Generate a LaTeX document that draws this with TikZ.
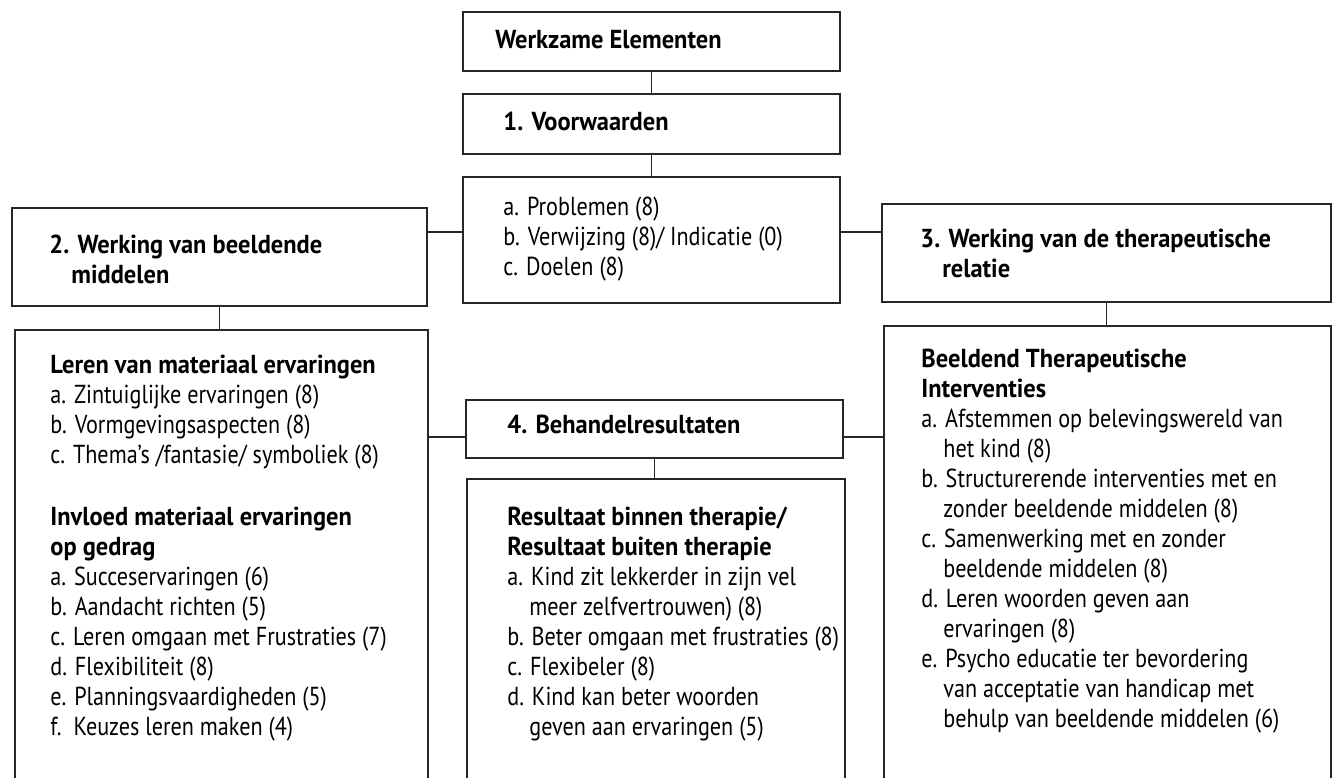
\documentclass[tikz,border=0pt]{standalone}
\usepackage{fontspec}
\setmainfont{PT Sans}[UprightFeatures={FakeStretch=0.853}, BoldFeatures={FakeStretch=0.94}]
\usetikzlibrary{fit}

\tikzset{
  box/.style={draw=black!85, line width=0.9pt, inner sep=0pt},
  link/.style={draw=black!85, line width=0.9pt},
  txt/.style={anchor=north west, inner sep=0pt, align=left, text=black,
    font=\fontsize{13pt}{15pt}\selectfont}
}
\newcommand{\subind}{\hspace*{11pt}}

\begin{document}
\begin{tikzpicture}[x=0.5pt, y=-0.5pt]
	\useasboundingbox (0,0) rectangle (1333,777);

	% boxes
	\node[box, fit={(463,12) (840,71)}] (werk) {};
	\node[box, fit={(463,94) (840,154)}] (voorw) {};
	\node[box, fit={(463,177) (840,303)}] (cond) {};
	\node[box, fit={(12,208) (427,306)}] (beeld) {};
	\node[box, fit={(882,204) (1331,302)}] (relatie) {};
	\node[box, fit={(15,330) (428,800)}] (materiaal) {};
	\node[box, fit={(466,400) (843,458)}] (behandel) {};
	\node[box, fit={(467,479) (845,800)}] (resultaat) {};
	\node[box, fit={(884,326) (1331,800)}] (interv) {};

	% connectors
	\draw[link] (werk) -- (voorw);
	\draw[link] (voorw) -- (cond);
	\draw[link] ([yshift=4pt]cond.west) -- ([yshift=4pt]beeld.east |- cond.west);
	\draw[link] ([yshift=4pt]cond.east) -- ([yshift=4pt]relatie.west |- cond.east);
	\draw[link] (beeld.south) -- (beeld.south |- materiaal.north);
	\draw[link] (relatie.south) -- (relatie.south |- interv.north);
	\draw[link] ([yshift=-4pt]behandel.west) -- ([yshift=-4pt]materiaal.east |- behandel.west);
	\draw[link] ([yshift=-4pt]behandel.east) -- ([yshift=-4pt]interv.west |- behandel.east);
	\draw[link] (behandel.south) -- (behandel.south |- resultaat.north);

	% texts
	\node[txt] (werk-t) at (495,27) {\strut\textbf{Werkzame Elementen}};
	\node[txt] (voorw-t) at (503,109) {\strut\textbf{1. Voorwaarden}};
	\node[txt] (cond-t) at (503,194) {\strut a. Problemen (8)\\
		b. Verwijzing (8)/ Indicatie (0)\\
		c. Doelen (8)};
	\node[txt] (beeld-t) at (49,232) {\strut\textbf{2. Werking van beeldende}\\
		\subind\textbf{middelen}};
	\node[txt] (relatie-t) at (920,226) {\strut\textbf{3. Werking van de therapeutische}\\
		\subind\textbf{relatie}};
	\node[txt] (materiaal-t) at (50,352) {\strut\textbf{Leren van materiaal ervaringen}\\
		a. Zintuiglijke ervaringen (8)\\
		b. Vormgevingsaspecten (8)\\
		c. Thema’s /fantasie/ symboliek (8)\\[16pt]
		\textbf{Invloed materiaal ervaringen}\\
		\textbf{op gedrag}\\
		a. Succeservaringen (6)\\
		b. Aandacht richten (5)\\
		c. Leren omgaan met Frustraties (7)\\
		d. Flexibiliteit (8)\\
		e. Planningsvaardigheden (5)\\
		f.\ \ Keuzes leren maken (4)};
	\node[txt] (behandel-t) at (507,412) {\strut\textbf{4. Behandelresultaten}};
	\node[txt] (resultaat-t) at (507,504) {\strut\textbf{Resultaat binnen therapie/}\\
		\textbf{Resultaat buiten therapie}\\
		a. Kind zit lekkerder in zijn vel\\
		\subind meer zelfvertrouwen) (8)\\
		b. Beter omgaan met frustraties (8)\\
		c. Flexibeler (8)\\
		d. Kind kan beter woorden\\
		\subind geven aan ervaringen (5)};
	\node[txt] (interv-t) at (921,346) {\strut\textbf{Beeldend Therapeutische}\\
		\textbf{Interventies}\\
		a. Afstemmen op belevingswereld van\\
		\subind het kind (8)\\
		b. Structurerende interventies met en\\
		\subind zonder beeldende middelen (8)\\
		c. Samenwerking met en zonder\\
		\subind beeldende middelen (8)\\
		d. Leren woorden geven aan\\
		\subind ervaringen (8)\\
		e. Psycho educatie ter bevordering\\
		\subind van acceptatie van handicap met\\
		\subind behulp van beeldende middelen (6)};
\end{tikzpicture}
\end{document}
